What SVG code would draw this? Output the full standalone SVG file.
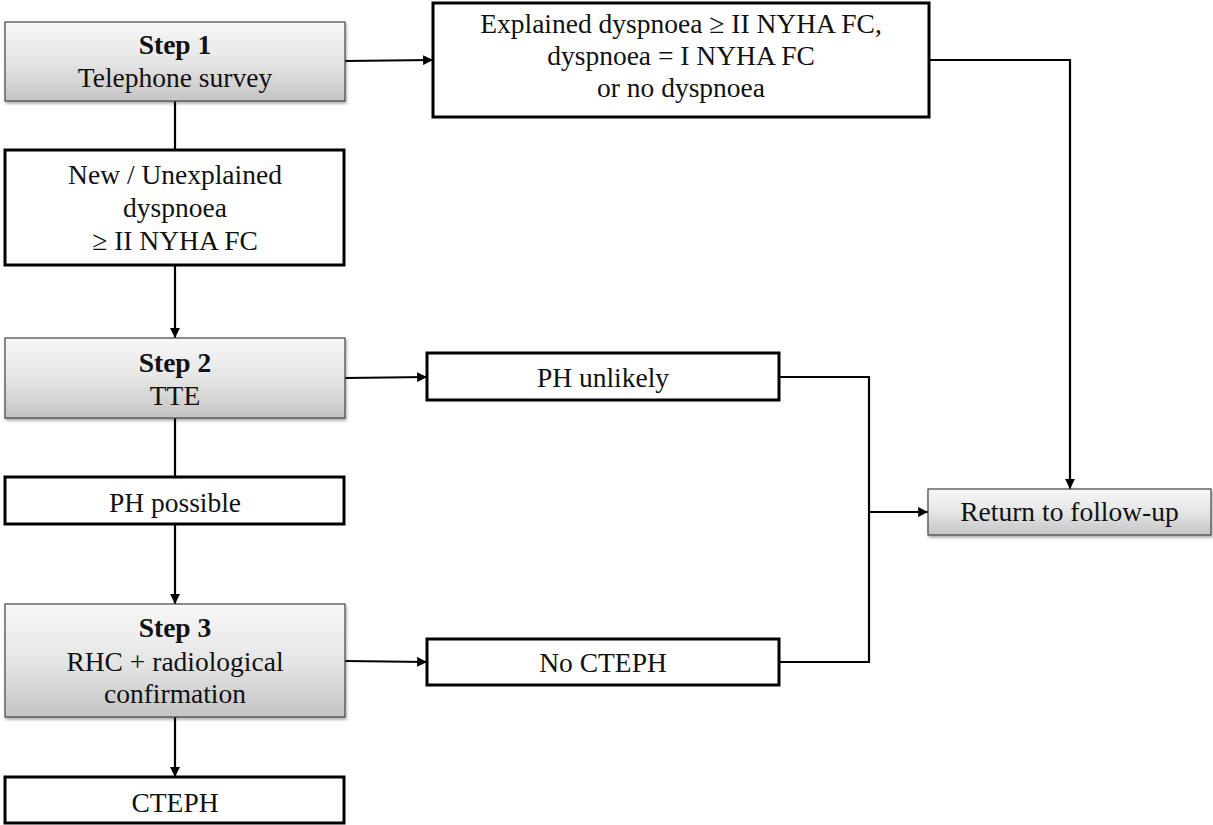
<svg xmlns="http://www.w3.org/2000/svg" width="1213" height="825" viewBox="0 0 1213 825">
<style>
text{font-family:"Liberation Serif","Times New Roman",serif;font-size:27.5px;fill:#111;text-anchor:middle}
.b{font-weight:bold}
.w{fill:#fff;stroke:#000;stroke-width:3}
.g{fill:url(#grad);stroke:#444;stroke-width:1.2;filter:url(#sh)}
.c{fill:none;stroke:#000;stroke-width:2.2}
.a{marker-end:url(#ar)}
</style>
<defs>
<linearGradient id="grad" x1="0" y1="0" x2="0" y2="1">
<stop offset="0" stop-color="#f7f7f7"/>
<stop offset="0.5" stop-color="#e6e6e6"/>
<stop offset="1" stop-color="#c4c4c4"/>
</linearGradient>
<filter id="sh" x="-5%" y="-10%" width="110%" height="130%">
<feDropShadow dx="1" dy="2" stdDeviation="1.5" flood-color="#000" flood-opacity="0.35"/>
</filter>
<marker id="ar" viewBox="0 0 10 10" refX="10" refY="5" markerWidth="4.5" markerHeight="4.5" orient="auto" markerUnits="strokeWidth">
<path d="M0,0 L10,5 L0,10 z" fill="#000"/>
</marker>
</defs>
<g id="connectors">
<path class="c" d="M175,101 V150"/>
<path class="c a" d="M175,265 V338"/>
<path class="c" d="M175,418 V477"/>
<path class="c a" d="M175,524 V604"/>
<path class="c a" d="M175,717 V777"/>
<path class="c a" d="M345,61 L433,60"/>
<path class="c a" d="M345,378 L427,377"/>
<path class="c a" d="M345,661 L427,662"/>
<path class="c a" d="M929,60 H1070 V489"/>
<path class="c" d="M779,377 H869 V662 H779"/>
<path class="c a" d="M869,512 H928"/>
</g>
<g id="step1">
<rect class="g" x="5" y="22" width="340" height="79"/>
<text class="b" x="175" y="54">Step 1</text>
<text x="175" y="87">Telephone survey</text>
</g>
<g id="new-dyspnoea">
<rect class="w" x="5" y="150" width="339" height="115"/>
<text x="175" y="184">New / Unexplained</text>
<text x="175" y="217">dyspnoea</text>
<text x="175" y="250">≥ II NYHA FC</text>
</g>
<g id="step2">
<rect class="g" x="5" y="338" width="340" height="80"/>
<text class="b" x="175" y="372">Step 2</text>
<text x="175" y="405">TTE</text>
</g>
<g id="ph-possible">
<rect class="w" x="5" y="477" width="339" height="47"/>
<text x="175" y="512">PH possible</text>
</g>
<g id="step3">
<rect class="g" x="5" y="604" width="340" height="113"/>
<text class="b" x="175" y="637">Step 3</text>
<text x="175" y="671">RHC + radiological</text>
<text x="175" y="703">confirmation</text>
</g>
<g id="cteph">
<rect class="w" x="5" y="777" width="339" height="46"/>
<text x="175" y="812">CTEPH</text>
</g>
<g id="explained">
<rect class="w" x="433" y="3" width="496" height="114"/>
<text x="681" y="33">Explained dyspnoea ≥ II NYHA FC,</text>
<text x="681" y="65">dyspnoea = I NYHA FC</text>
<text x="681" y="97">or no dyspnoea</text>
</g>
<g id="ph-unlikely">
<rect class="w" x="427" y="353" width="352" height="47"/>
<text x="603" y="387">PH unlikely</text>
</g>
<g id="no-cteph">
<rect class="w" x="427" y="639" width="352" height="46"/>
<text x="603" y="672">No CTEPH</text>
</g>
<g id="return">
<rect class="g" x="928" y="489" width="283" height="46"/>
<text x="1069.5" y="521">Return to follow-up</text>
</g>
</svg>
